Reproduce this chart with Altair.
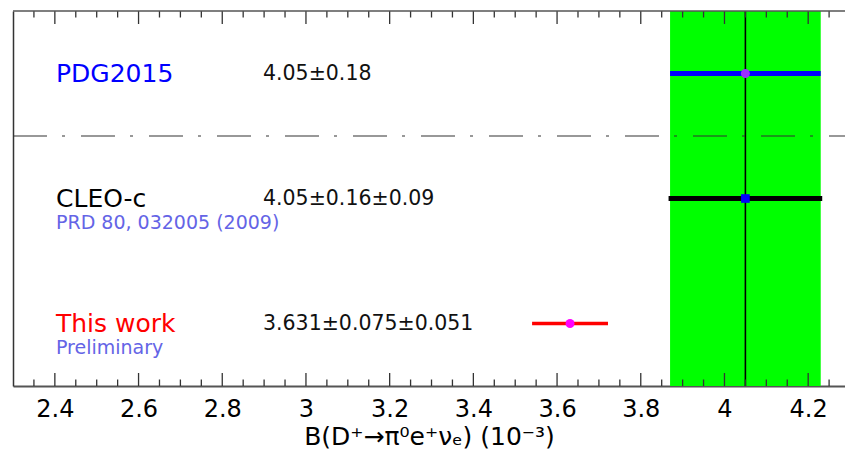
import math
import altair as alt
import pandas as pd

# ---- data ----
names = ["This work", "CLEO-c", "PDG2015"]
subnames = ["Preliminary", "PRD 80, 032005 (2009)", ""]
result_text = ["3.631±0.075±0.051", "4.05±0.16±0.09", "4.05±0.18"]
central = [3.631, 4.05, 4.05]
stat_err = [0.075, 0.16, 0.18]
syst_err = [0.051, 0.09, 0.0]
rows = [1, 3, 5]
name_colors = ["#ff0000", "#000000", "#0000ff"]
bar_colors = ["#ff0000", "#000000", "#0000ff"]
marker_colors = ["#ff00ff", "#0000ff", "#9b30ff"]
marker_shapes = ["circle", "square", "circle"]
marker_sizes = [80, 75, 80]
bar_widths = [3.5, 5, 5]
separator_row = [4]
major_ticks = [2.4, 2.6, 2.8, 3.0, 3.2, 3.4, 3.6, 3.8, 4.0, 4.2]
minor_ticks = [2.35, 2.45, 2.5, 2.55, 2.65, 2.7, 2.75, 2.85, 2.9, 2.95,
               3.05, 3.1, 3.15, 3.25, 3.3, 3.35, 3.45, 3.5, 3.55, 3.65,
               3.7, 3.75, 3.85, 3.9, 3.95, 4.05, 4.1, 4.15, 4.25]
x_title = "B(D⁺→π⁰e⁺νₑ) (10⁻³)"

W, H = 832, 375
FONT = "DejaVu Sans"

tot = [math.sqrt(s * s + y * y) for s, y in zip(stat_err, syst_err)]
df = pd.DataFrame({
    "name": names, "sub": subnames, "txt": result_text, "val": central,
    "lo": [c - e for c, e in zip(central, tot)],
    "hi": [c + e for c, e in zip(central, tot)],
    "row": rows, "ncol": name_colors, "bcol": bar_colors, "mcol": marker_colors,
    "shape": marker_shapes, "msize": marker_sizes, "bw": bar_widths,
})
band = pd.DataFrame({"lo": [central[2] - stat_err[2]], "hi": [central[2] + stat_err[2]],
                     "val": [central[2]]})
sep = pd.DataFrame({"row": separator_row})
maj = pd.DataFrame({"t": major_ticks})
mnr = pd.DataFrame({"t": minor_ticks})
one = pd.DataFrame({"a": [0]})

xs = alt.Scale(domain=[2.30, 4.288], nice=False, zero=False)
ys = alt.Scale(domain=[0, 6], nice=False, zero=False)

x_axis = alt.Axis(values=major_ticks, format="~g", labelFont=FONT, labelFontSize=24,
                  labelColor="#000000", ticks=False, tickSize=0, labelPadding=11,
                  domainColor="#555555", domainWidth=2, grid=False,
                  title=x_title, titleFont=FONT, titleFontSize=25,
                  titleFontWeight="normal", titleColor="#000000", titlePadding=3)
y_axis = alt.Axis(labels=False, ticks=False, grid=False, title=None,
                  domainColor="#333333", domainWidth=1.5)


def X(f):
    return alt.X(f, scale=xs, axis=x_axis)


def Y(f):
    return alt.Y(f, scale=ys, axis=y_axis)


band_layer = alt.Chart(band).mark_rect(color="#00ff00").encode(
    x=X("lo:Q"), x2="hi:Q", y=alt.value(0), y2=alt.value(H))

vline = alt.Chart(band).mark_rule(color="#000000", strokeWidth=1.6).encode(
    x=X("val:Q"), y=alt.value(0), y2=alt.value(H))

sep_layer = alt.Chart(sep).mark_rule(color="#333333", strokeWidth=1.2,
                                     strokeDash=[34, 15, 3, 16]).encode(
    y=Y("row:Q"), x=alt.value(0), x2=alt.value(W))

bars = alt.Chart(df).mark_rule(strokeCap="butt").encode(
    x=X("lo:Q"), x2="hi:Q", y=Y("row:Q"),
    color=alt.Color("bcol:N", scale=None),
    strokeWidth=alt.StrokeWidth("bw:Q", scale=None))

markers = alt.Chart(df).mark_point(filled=True, opacity=1).encode(
    x=X("val:Q"), y=Y("row:Q"),
    color=alt.Color("mcol:N", scale=None),
    shape=alt.Shape("shape:N", scale=None),
    size=alt.Size("msize:Q", scale=None))

name_text = alt.Chart(df).mark_text(align="left", baseline="middle", font=FONT,
                                    fontSize=25).encode(
    x=alt.value(43), y=Y("row:Q"),
    text="name:N", color=alt.Color("ncol:N", scale=None))

sub_text = alt.Chart(df).mark_text(align="left", baseline="middle", font=FONT,
                                   fontSize=19, dy=24, color="#6464e6").encode(
    x=alt.value(43), y=Y("row:Q"), text="sub:N")

num_text = alt.Chart(df).mark_text(align="left", baseline="middle", font=FONT,
                                   fontSize=20.5, color="#111111").encode(
    x=alt.value(250), y=Y("row:Q"), text="txt:N")

tick_col = "#333333"
maj_bot = alt.Chart(maj).mark_rule(color=tick_col, strokeWidth=1.3).encode(
    x=X("t:Q"), y=alt.value(H), y2=alt.value(H - 13))
mnr_bot = alt.Chart(mnr).mark_rule(color=tick_col, strokeWidth=1.3).encode(
    x=X("t:Q"), y=alt.value(H), y2=alt.value(H - 6.5))
maj_top = alt.Chart(maj).mark_rule(color=tick_col, strokeWidth=1.3).encode(
    x=X("t:Q"), y=alt.value(0), y2=alt.value(13))
mnr_top = alt.Chart(mnr).mark_rule(color=tick_col, strokeWidth=1.3).encode(
    x=X("t:Q"), y=alt.value(0), y2=alt.value(6.5))
top_frame = alt.Chart(one).mark_rule(color="#555555", strokeWidth=1.5).encode(
    x=alt.value(0), x2=alt.value(W), y=alt.value(0))

chart = alt.layer(
    band_layer, vline, sep_layer, bars, markers, name_text, sub_text, num_text,
    maj_bot, mnr_bot, maj_top, mnr_top, top_frame
).properties(
    width=W, height=H,
    padding={"left": 13, "top": 11, "right": 0, "bottom": 70},
    autosize=alt.AutoSizeParams(type="none"),
    background="#ffffff",
).configure_view(stroke=None)

chart.save("out.html", embed_options={"renderer": "svg", "actions": False})
